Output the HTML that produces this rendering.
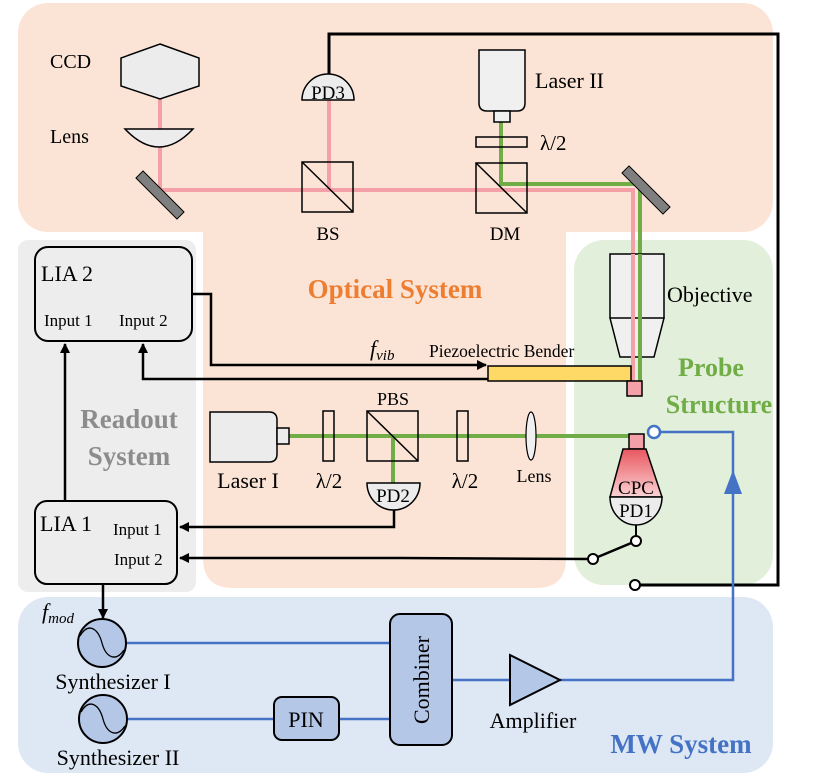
<!DOCTYPE html>
<html><head><meta charset="utf-8"><style>
html,body{margin:0;padding:0;background:#fff;}
svg{display:block;}
text{font-family:"Liberation Serif",serif;}
</style></head><body>
<svg width="830" height="777" viewBox="0 0 830 777" xmlns="http://www.w3.org/2000/svg" font-family="Liberation Serif, serif">
<defs>
<marker id="ab" markerWidth="10" markerHeight="10" refX="9" refY="5" orient="auto" markerUnits="userSpaceOnUse"><path d="M0,0 L10,5 L0,10 z" fill="#000"/></marker>
<linearGradient id="cpc" x1="0" y1="0" x2="0" y2="1"><stop offset="0" stop-color="#e8575f"/><stop offset="1" stop-color="#fbd3d5"/></linearGradient>
</defs>
<rect x="18" y="3" width="755" height="229" rx="30" fill="#fbe4d6"/>
<path d="M203,200 H566 V558 Q566,588 536,588 H233 Q203,588 203,558 Z" fill="#fbe4d6"/>
<rect x="18" y="240" width="178" height="352" rx="10" fill="#ededed"/>
<rect x="574" y="240" width="199" height="345" rx="30" fill="#e2efda"/>
<rect x="18" y="597" width="755" height="176" rx="30" fill="#dee8f5"/>

<path d="M329,75 V34 H778 V585 H639" fill="none" stroke="#000" stroke-width="3"/>

<path d="M160,99 V190 H633 V382" fill="none" stroke="#f4a0a8" stroke-width="4"/>
<path d="M329,100 V190" stroke="#f4a0a8" stroke-width="4"/>
<path d="M501,122 V184 H640 V382" fill="none" stroke="#70ad47" stroke-width="4"/>
<path d="M289,436 H630" stroke="#70ad47" stroke-width="4"/>
<path d="M393,436 V483" stroke="#70ad47" stroke-width="4"/>

<polygon points="160,44 199,58 199,86 160,99 121,86 121,58" fill="#ececec" stroke="#000" stroke-width="1.5"/>
<text x="50" y="68" font-size="20">CCD</text>
<path d="M125,129 H193 Q176,147 159,147 Q142,147 125,129 Z" fill="#ececec" stroke="#000" stroke-width="1.5"/>
<text x="50" y="143" font-size="20">Lens</text>
<rect x="131" y="190" width="58" height="10" fill="#7f7f7f" stroke="#000" stroke-width="1" transform="rotate(45 160 195)"/>
<path d="M302,100 A26,26 0 0 1 354,100 Z" fill="#ececec" stroke="#000" stroke-width="1.5"/>
<text x="328" y="99" font-size="19" text-anchor="middle">PD3</text>
<rect x="302" y="162" width="51" height="50" fill="none" stroke="#000" stroke-width="1.5"/>
<line x1="302" y1="162" x2="353" y2="212" stroke="#000" stroke-width="1.5"/>
<text x="328" y="240" font-size="19" text-anchor="middle">BS</text>
<path d="M479,50 H525 V103 Q525,111 517,111 H487 Q479,111 479,103 Z" fill="#f0f0f0" stroke="#000" stroke-width="1.5"/>
<rect x="494" y="111" width="16" height="11" fill="#f0f0f0" stroke="#000" stroke-width="1.5"/>
<text x="535" y="88" font-size="22">Laser II</text>
<rect x="476" y="137" width="51" height="10" fill="none" stroke="#000" stroke-width="1.5"/>
<text x="540" y="150" font-size="21">λ/2</text>
<rect x="476" y="163" width="51" height="50" fill="none" stroke="#000" stroke-width="1.5"/>
<line x1="476" y1="163" x2="527" y2="213" stroke="#000" stroke-width="1.5"/>
<text x="505" y="240" font-size="19" text-anchor="middle">DM</text>
<rect x="617" y="185" width="58" height="10" fill="#7f7f7f" stroke="#000" stroke-width="1" transform="rotate(45 646 190)"/>
<path d="M610,254 H664 V318 H610 Z M610,318 H664 L654,357 H620 Z" fill="#f0f0f0" stroke="#000" stroke-width="1.5"/>
<path d="M633,254 V382" stroke="#f4a0a8" stroke-width="4"/>
<path d="M640,254 V382" stroke="#70ad47" stroke-width="4"/>
<text x="667" y="302" font-size="22">Objective</text>
<text x="395" y="298" font-size="27" font-weight="bold" fill="#ed7d31" text-anchor="middle">Optical System</text>
<rect x="488" y="366" width="143" height="15" fill="#ffd966" stroke="#000" stroke-width="1.5"/>
<text x="429" y="357" font-size="17.5">Piezoelectric Bender</text>
<text x="370" y="356" font-size="22" font-style="italic">f<tspan font-size="15" dy="4">vib</tspan></text>
<rect x="627" y="381" width="15" height="15" fill="#f4a0a8" stroke="#000" stroke-width="1.5"/>
<text x="711" y="376" font-size="26" font-weight="bold" fill="#70ad47" text-anchor="middle">Probe</text>
<text x="719" y="413" font-size="26" font-weight="bold" fill="#70ad47" text-anchor="middle">Structure</text>

<rect x="35" y="247" width="157" height="94" rx="13" fill="#ededed" stroke="#000" stroke-width="2"/>
<text x="41" y="281" font-size="22">LIA 2</text>
<text x="44" y="326" font-size="17">Input 1</text>
<text x="119" y="326" font-size="17">Input 2</text>
<path d="M192,294 H211 V365 H486" fill="none" stroke="#000" stroke-width="2.5" marker-end="url(#ab)"/>
<path d="M488,379 H143 V344" fill="none" stroke="#000" stroke-width="2.5" marker-end="url(#ab)"/>
<path d="M65,501 V344" fill="none" stroke="#000" stroke-width="2.5" marker-end="url(#ab)"/>
<text x="129" y="428" font-size="27" font-weight="bold" fill="#8c8c8c" text-anchor="middle">Readout</text>
<text x="129" y="465" font-size="27" font-weight="bold" fill="#8c8c8c" text-anchor="middle">System</text>

<path d="M210,412 H269 Q277,412 277,420 V454 Q277,462 269,462 H210 Z" fill="#ececec" stroke="#000" stroke-width="1.5"/>
<rect x="277" y="428" width="12" height="16" fill="#ececec" stroke="#000" stroke-width="1.5"/>
<text x="248" y="488" font-size="22" text-anchor="middle">Laser I</text>
<rect x="323" y="411" width="11" height="50" fill="none" stroke="#000" stroke-width="1.5"/>
<text x="329" y="488" font-size="21" text-anchor="middle">λ/2</text>
<rect x="367" y="411" width="51" height="50" fill="none" stroke="#000" stroke-width="1.5"/>
<line x1="367" y1="411" x2="418" y2="461" stroke="#000" stroke-width="1.5"/>
<text x="393" y="405" font-size="18" text-anchor="middle">PBS</text>
<path d="M367,483 H420 A26.5,27 0 0 1 367,483 Z" fill="#ececec" stroke="#000" stroke-width="1.5"/>
<text x="393" y="502" font-size="19" text-anchor="middle">PD2</text>
<path d="M394,510 V527 H180" fill="none" stroke="#000" stroke-width="2.5" marker-end="url(#ab)"/>
<rect x="457" y="411" width="11" height="50" fill="none" stroke="#000" stroke-width="1.5"/>
<text x="465" y="488" font-size="21" text-anchor="middle">λ/2</text>
<ellipse cx="531" cy="436" rx="5" ry="24" fill="#f0f0f0" stroke="#000" stroke-width="1.2"/>
<text x="534" y="482" font-size="18" text-anchor="middle">Lens</text>
<rect x="629" y="434" width="15" height="15" fill="#f4a0a8" stroke="#000" stroke-width="1.5"/>
<polygon points="623,449 646,449 662,497 610,497" fill="url(#cpc)" stroke="#000" stroke-width="1.5"/>
<path d="M610,497 H662 A26,28 0 0 1 610,497 Z" fill="#ececec" stroke="#000" stroke-width="1.5"/>
<text x="636" y="494" font-size="19" text-anchor="middle">CPC</text>
<text x="636" y="517" font-size="19" text-anchor="middle">PD1</text>
<path d="M636,525 V536" stroke="#000" stroke-width="2"/>
<line x1="636" y1="541" x2="593" y2="559" stroke="#000" stroke-width="2.5"/>
<circle cx="636" cy="541" r="5" fill="#fff" stroke="#000" stroke-width="2"/>
<path d="M588,559 L400,558 H180" fill="none" stroke="#000" stroke-width="2.5" marker-end="url(#ab)"/>
<circle cx="593" cy="559" r="5" fill="#fff" stroke="#000" stroke-width="2"/>
<circle cx="635" cy="585" r="5" fill="#fff" stroke="#000" stroke-width="2"/>
<path d="M560,680 H733 V432 H660" fill="none" stroke="#4472c4" stroke-width="2.5"/>
<circle cx="654" cy="432" r="6" fill="#fff" stroke="#4472c4" stroke-width="2.5"/>
<polygon points="733,470 724,494 742,494" fill="#4472c4"/>

<rect x="35" y="501" width="142" height="83" rx="12" fill="#ededed" stroke="#000" stroke-width="2"/>
<text x="40" y="531" font-size="22">LIA 1</text>
<text x="113" y="535" font-size="17">Input 1</text>
<text x="114" y="565" font-size="17">Input 2</text>
<path d="M103,584 V618" fill="none" stroke="#000" stroke-width="2.5" marker-end="url(#ab)"/>
<text x="42" y="619" font-size="22" font-style="italic">f<tspan font-size="15" dy="4">mod</tspan></text>

<path d="M126,643 H390 M127,719 H274 M339,719 H390 M452,680 H510" stroke="#4472c4" stroke-width="2.5" fill="none"/>
<circle cx="102" cy="643" r="24" fill="#b4c7e7" stroke="#000" stroke-width="2"/>
<path d="M80,636 C88,622 98,628 102,643 C106,658 116,662 124,650" fill="none" stroke="#000" stroke-width="1.3"/>
<text x="113" y="689" font-size="22" text-anchor="middle">Synthesizer I</text>
<circle cx="103" cy="719" r="24" fill="#b4c7e7" stroke="#000" stroke-width="2"/>
<path d="M81,712 C89,698 99,704 103,719 C107,734 117,738 125,726" fill="none" stroke="#000" stroke-width="1.3"/>
<text x="118" y="765" font-size="22" text-anchor="middle">Synthesizer II</text>
<rect x="274" y="697" width="65" height="43" rx="8" fill="#b4c7e7" stroke="#000" stroke-width="2"/>
<text x="306" y="727" font-size="22" text-anchor="middle">PIN</text>
<rect x="390" y="614" width="62" height="131" rx="10" fill="#b4c7e7" stroke="#000" stroke-width="2"/>
<text x="0" y="0" font-size="22" text-anchor="middle" transform="translate(429,680) rotate(-90)">Combiner</text>
<polygon points="510,655 560,680 510,705" fill="#b4c7e7" stroke="#000" stroke-width="2"/>
<text x="533" y="728" font-size="22" text-anchor="middle">Amplifier</text>
<text x="681" y="753" font-size="27" font-weight="bold" fill="#4472c4" text-anchor="middle">MW System</text>
</svg>
</body></html>
